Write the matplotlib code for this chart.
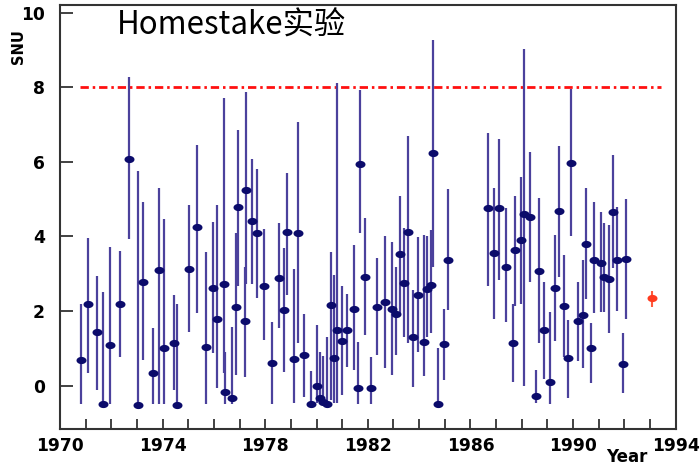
import numpy as np
import matplotlib
matplotlib.use("Agg")
import matplotlib.pyplot as plt
from matplotlib.path import Path
from matplotlib.ticker import MultipleLocator, FixedLocator

# ---- data ----
years = [1970.81, 1971.09, 1971.43, 1971.69, 1971.95, 1972.32, 1972.68, 1973.04, 1973.25, 1973.61,
         1973.87, 1974.07, 1974.45, 1974.58, 1975.01, 1975.36, 1975.69, 1975.96, 1976.14, 1976.38,
         1976.42, 1976.71, 1976.86, 1976.94, 1977.23, 1977.27, 1977.49, 1977.68, 1977.97, 1978.26,
         1978.53, 1978.72, 1978.86, 1979.11, 1979.27, 1979.53, 1979.77, 1980.03, 1980.13, 1980.26,
         1980.39, 1980.55, 1980.68, 1980.81, 1980.98, 1981.20, 1981.46, 1981.61, 1981.69, 1981.91,
         1982.11, 1982.34, 1982.66, 1982.96, 1983.11, 1983.24, 1983.41, 1983.57, 1983.78, 1983.97,
         1984.19, 1984.29, 1984.45, 1984.54, 1984.74, 1984.97, 1985.14, 1986.69, 1986.93, 1987.12,
         1987.38, 1987.67, 1987.75, 1987.97, 1988.10, 1988.33, 1988.55, 1988.66, 1988.88, 1989.11,
         1989.30, 1989.44, 1989.66, 1989.82, 1989.92, 1990.21, 1990.38, 1990.51, 1990.70, 1990.83,
         1991.09, 1991.22, 1991.42, 1991.55, 1991.71, 1991.94, 1992.07]
snu = [0.69, 2.18, 1.43, -0.49, 1.08, 2.18, 6.07, -0.52, 2.79, 0.33,
       3.10, 1.00, 1.14, -0.52, 3.12, 4.26, 1.03, 2.63, 1.78, 2.73,
       -0.16, -0.34, 2.12, 4.78, 1.74, 5.25, 4.42, 4.09, 2.67, 0.60,
       2.88, 2.03, 4.13, 0.71, 4.10, 0.82, -0.49, 0.00, -0.34, -0.43,
       -0.49, 2.16, 0.73, 1.49, 1.20, 1.49, 2.06, -0.07, 5.94, 2.92,
       -0.07, 2.10, 2.23, 2.06, 1.92, 3.52, 2.74, 4.13, 1.31, 2.43,
       1.18, 2.59, 2.70, 6.23, -0.49, 1.12, 3.37, 4.76, 3.55, 4.76,
       3.17, 1.15, 3.64, 3.91, 4.60, 4.53, -0.28, 3.08, 1.49, 0.11,
       2.61, 4.69, 2.14, 0.73, 5.96, 1.74, 1.90, 3.80, 1.00, 3.37,
       3.28, 2.92, 2.85, 4.66, 3.37, 0.58, 3.39]
err_top = [2.18, 3.97, 2.94, 2.52, 3.71, 3.62, 8.26, 5.76, 4.92, 1.54,
           5.29, 4.46, 2.43, 2.19, 4.83, 6.45, 3.59, 4.38, 4.83, 7.70,
           0.91, 1.58, 4.09, 6.86, 3.17, 7.87, 6.08, 5.80, 4.20, 1.72,
           4.35, 3.68, 5.71, 3.12, 7.06, 1.91, 0.39, 1.63, 0.91, 0.80,
           1.31, 3.58, 2.97, 8.12, 2.68, 2.46, 3.77, 1.18, 7.93, 4.49,
           0.76, 3.42, 4.00, 3.86, 3.19, 5.09, 4.22, 6.69, 2.57, 3.98,
           4.04, 4.00, 4.16, 9.27, 1.00, 2.05, 5.27, 6.77, 5.31, 6.60,
           4.76, 2.19, 5.09, 5.58, 9.02, 6.26, 0.42, 5.02, 2.77, 1.98,
           4.04, 6.43, 3.50, 1.76, 7.95, 2.77, 3.37, 5.29, 1.69, 4.91,
           4.66, 4.37, 4.31, 6.17, 4.80, 1.42, 5.00]
err_bottom = [-0.50, 0.35, -0.12, -0.50, -0.49, 0.78, 3.92, -0.50, 0.69, -0.49,
              -0.50, -0.49, -0.12, -0.50, 1.45, 1.96, -0.50, 0.87, -0.07, 0.35,
              -0.50, -0.50, 0.29, 2.66, 0.24, 2.73, 2.73, 2.34, 1.22, -0.50,
              1.54, 0.38, 2.43, -0.47, 1.14, -0.29, -0.50, -0.47, -0.50, -0.50,
              -0.50, -0.38, -0.47, -0.47, -0.25, 0.51, 0.42, -0.50, 4.09, 1.36,
              -0.50, 0.82, 0.47, 0.29, 0.82, 1.92, 1.31, 1.14, -0.04, 0.91,
              0.26, 1.30, 1.40, 3.19, -0.50, 0.15, 2.03, 2.66, 1.79, 2.83,
              1.70, 0.11, 2.14, 2.19, -0.01, 2.79, -0.45, 1.14, 0.17, -0.49,
              1.21, 2.91, 0.78, -0.34, 4.00, 0.66, 0.47, 2.32, 0.08, 1.94,
              1.98, 1.98, 1.40, 3.15, 2.01, -0.20, 1.78]

avg_year = [1993.09]
avg_snu = [2.34]
avg_top = [2.55]
avg_bottom = [2.12]

ref_level = 8.0
ref_span = [1970.78, 1993.44]

title_text = "Homestake实验"
ylabel_text = "SNU"
xlabel_text = "Year"
xtick_labels = [1970, 1974, 1978, 1982, 1986, 1990, 1994]

# ---- style ----
plt.rcParams['font.family'] = ['DejaVu Sans']

fig = plt.figure(figsize=(7.0, 4.66), dpi=100)
ax = fig.add_axes([60 / 700, 37 / 466, 615.6 / 700, 424.3 / 466])

# ellipse marker (wider than tall)
t = np.linspace(0, 2 * np.pi, 40)
ell = Path(np.column_stack([np.cos(t), 0.72 * np.sin(t)]), closed=True)

ax.vlines(years, err_bottom, err_top, colors='#4b419c', linewidth=1.6, zorder=2)
ax.plot(years, snu, linestyle='none', marker=ell, markersize=7.2,
        color='#0b0b6b', markeredgewidth=0, zorder=3)

ax.vlines(avg_year, avg_bottom, avg_top, colors='#ff5a3c', linewidth=1.5, zorder=2)
ax.plot(avg_year, avg_snu, linestyle='none', marker=ell, markersize=7.2,
        color='#ff3b1f', markeredgewidth=0, zorder=3)

ax.plot(ref_span, [ref_level, ref_level], color='#ff1010', linewidth=2.0,
        linestyle=(0, (3, 1.4, 0.9, 1.4)), zorder=1)

ax.set_xlim(1970, 1994)
ax.set_ylim(-1.16, 10.21)

ax.xaxis.set_major_locator(FixedLocator(xtick_labels))
ax.xaxis.set_minor_locator(MultipleLocator(1))
ax.yaxis.set_major_locator(FixedLocator([0, 2, 4, 6, 8, 10]))
ax.set_xticklabels([str(v) for v in xtick_labels])

ax.tick_params(axis='x', which='both', direction='in', length=7.5, width=1.3,
               color='#333333', pad=6, labelsize=12.3)
ax.tick_params(axis='y', which='major', direction='in', length=9, width=1.3,
               color='#333333', pad=11, labelsize=12.3)
for lab in ax.get_xticklabels() + ax.get_yticklabels():
    lab.set_fontweight('bold')

for s in ax.spines.values():
    s.set_color('#333333')
    s.set_linewidth(1.5)

fig.text(117 / 700, 1 - 26 / 466, title_text, fontsize=22.5,
         family=['Noto Sans CJK SC', 'DejaVu Sans'], ha='left', va='center', color='black')
fig.text(18 / 700, 1 - 47 / 466, ylabel_text, rotation=90, fontsize=10.5,
         fontweight='bold', ha='center', va='center')
fig.text(648 / 700, 1 - 457 / 466, xlabel_text, fontsize=12,
         fontweight='bold', ha='right', va='center')

fig.savefig("out.png", dpi=100)
